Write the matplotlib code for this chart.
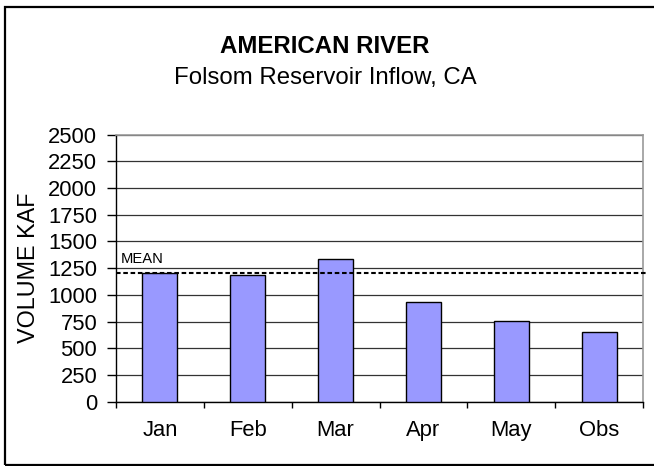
import matplotlib
matplotlib.use("Agg")
import matplotlib.pyplot as plt
from matplotlib.patches import Rectangle
import numpy as np

plt.rcParams['font.family'] = ['Liberation Sans', 'DejaVu Sans']

categories = ["Jan", "Feb", "Mar", "Apr", "May", "Obs"]
volumes = [1206, 1185, 1335, 931, 753, 650]
mean_value = 1209
yticks = [0, 250, 500, 750, 1000, 1250, 1500, 1750, 2000, 2250, 2500]

W, H = 654, 466
fig = plt.figure(figsize=(W / 100, H / 100), dpi=100)

left, right, top, bottom = 116, 643, 134.7, 401.7
ax = fig.add_axes([left / W, 1 - bottom / H, (right - left) / W, (bottom - top) / H])

x = np.arange(len(categories)) + 0.5
ax.bar(x, volumes, width=0.4, color="#9999FF", edgecolor="black", linewidth=1.0, zorder=3)

ax.set_xlim(0, len(categories))
ax.set_ylim(0, 2500)
ax.set_yticks(yticks)
ax.set_yticklabels([str(t) for t in yticks], fontsize=15.8)
ax.yaxis.grid(True, color="#333333", linewidth=0.9, zorder=0)
ax.set_axisbelow(True)

ax.set_xticks(np.arange(len(categories) + 1))
ax.set_xticklabels([])
ax.set_xticks(x, minor=True)
ax.set_xticklabels(categories, minor=True, fontsize=15.8)
ax.tick_params(axis="x", which="major", direction="out", length=4.5, width=1, color="black")
ax.tick_params(axis="x", which="minor", length=0, pad=13)
ax.tick_params(axis="y", direction="out", length=6.5, width=1, color="black", pad=7)

for s in ["left", "bottom"]:
    ax.spines[s].set_color("black")
    ax.spines[s].set_linewidth(1.0)
for s in ["top", "right"]:
    ax.spines[s].set_color("#999999")
    ax.spines[s].set_linewidth(1.2)

ax.axhline(mean_value, xmin=0, xmax=1.0095, color="black", linestyle=(0, (2.2, 1.3)),
           linewidth=1.5, zorder=4, clip_on=False)
ax.text(0.05, mean_value + 60, "MEAN", fontsize=10.6, ha="left", va="bottom", zorder=5)

fig.text(28.5 / W, 1 - 268 / H, "VOLUME KAF", rotation=90, ha="center", va="center", fontsize=16.8)

fig.text(325 / W, 1 - 53.3 / H, "AMERICAN RIVER", ha="center", va="baseline", fontsize=17.3, fontweight="bold")
fig.text(325 / W, 1 - 84 / H, "Folsom Reservoir Inflow, CA", ha="center", va="baseline", fontsize=17.3)

frame = Rectangle((5.5 / W, 1 - 464.5 / H), (W + 10) / W, (464.5 - 7) / H, transform=fig.transFigure,
                  fill=False, edgecolor="black", linewidth=1.6, clip_on=False)
fig.patches.append(frame)

fig.savefig("out.png", dpi=100)
